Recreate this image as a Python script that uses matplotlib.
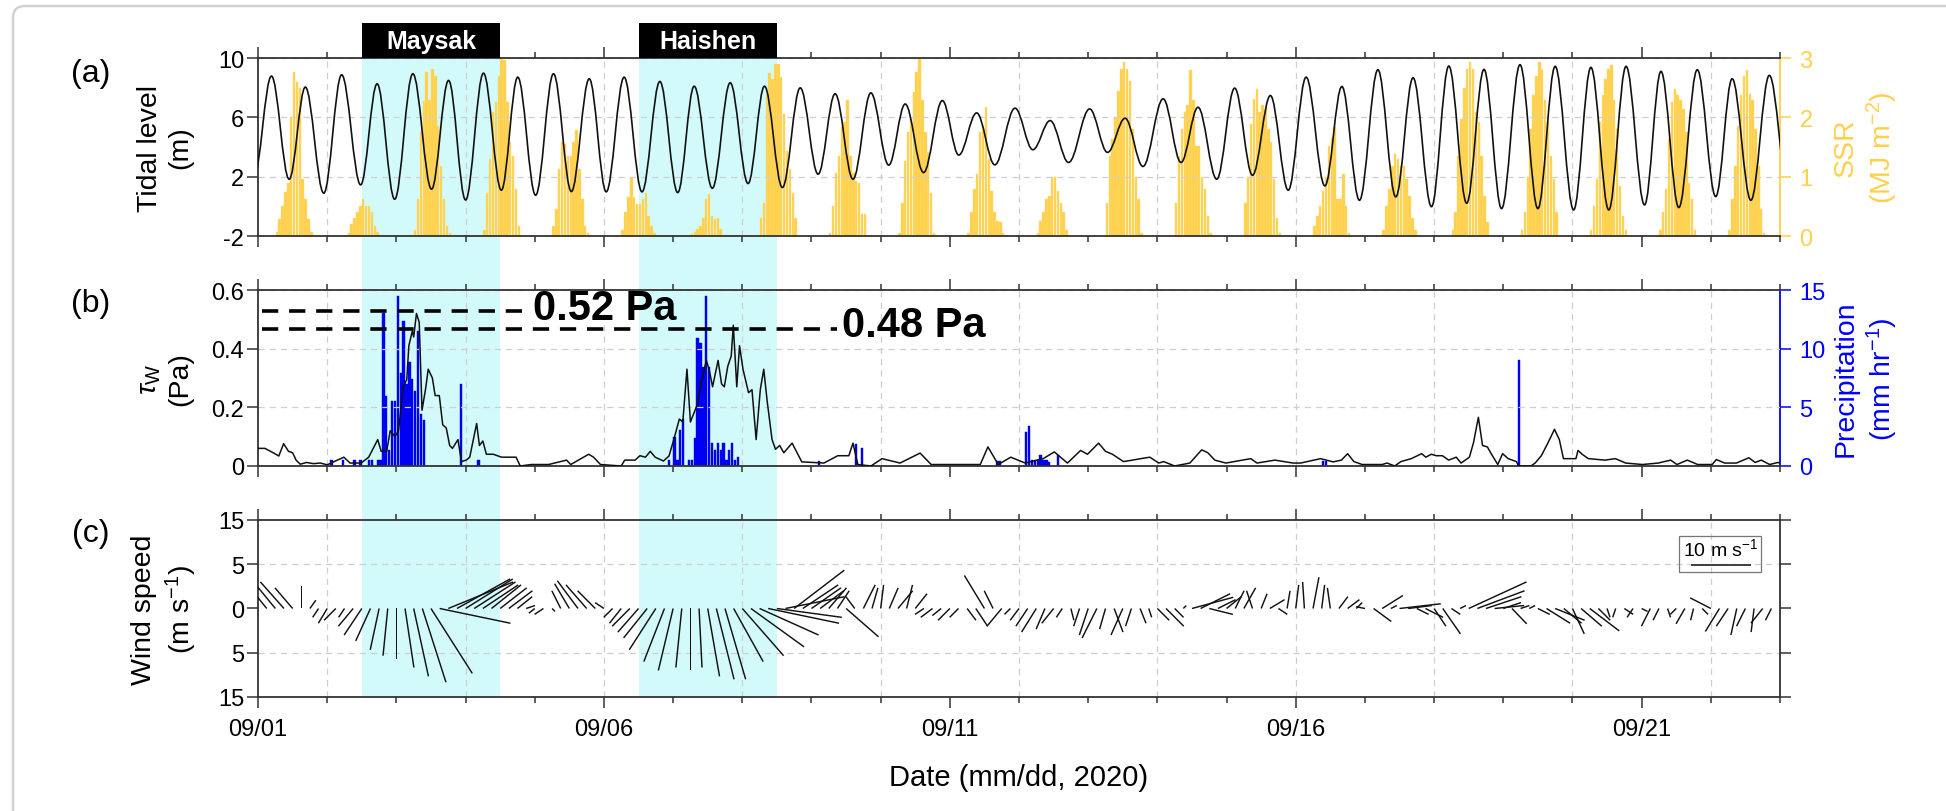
import numpy as np
import matplotlib
matplotlib.use('Agg')
import matplotlib.pyplot as plt
from matplotlib.path import Path
from matplotlib.patches import PathPatch, Rectangle, FancyBboxPatch
from matplotlib.transforms import blended_transform_factory, IdentityTransform

plt.rcParams['font.family'] = ['Liberation Sans', 'DejaVu Sans']
plt.rcParams['mathtext.fontset'] = 'custom'
plt.rcParams['mathtext.rm'] = 'Liberation Sans'
plt.rcParams['mathtext.it'] = 'Liberation Sans:italic'
plt.rcParams['mathtext.bf'] = 'Liberation Sans:bold'
plt.rcParams['axes.unicode_minus'] = False

# ---- data (time = hours / days since 09/01 00:00) ----
# tidal highs and lows: (hour, level m)
tide_extrema = [
    (-1.5, 1.9), (4.65, 8.78), (10.8, 1.83), (16.4, 8.04), (22.8, 0.89), (29.0, 8.87),
    (35.6, 1.45), (41.3, 8.26), (47.4, 0.48), (53.7, 8.94), (60.2, 1.16), (66.1, 8.49),
    (72.0, 0.43), (78.2, 8.98), (84.4, 1.09), (90.1, 8.71), (96.3, 0.75), (102.5, 8.94),
    (108.7, 1.0), (114.9, 8.6), (120.8, 0.98), (127.0, 8.71), (133.2, 0.98), (139.4, 8.42),
    (145.6, 0.93), (151.3, 8.1), (157.6, 1.22), (163.8, 8.33), (170.0, 1.54), (175.7, 8.1),
    (181.9, 1.27), (188.1, 7.99), (194.3, 2.17), (200.2, 7.59), (206.4, 1.83), (212.6, 7.65),
    (218.8, 2.78), (224.5, 6.9), (230.9, 2.28), (237.4, 7.13), (243.1, 3.46), (249.3, 6.3),
    (255.6, 2.8), (262.6, 6.62), (268.8, 3.82), (274.8, 5.78), (281.2, 2.96), (288.5, 6.57),
    (294.7, 3.64), (300.8, 5.94), (307.0, 2.69), (314.0, 7.25), (320.2, 2.96), (326.1, 6.68),
    (332.6, 1.83), (338.8, 7.97), (345.0, 2.1), (351.2, 7.47), (357.4, 1.09), (363.6, 8.71),
    (370.1, 1.38), (376.0, 8.08), (382.1, 0.41), (388.5, 9.21), (394.7, 0.64), (400.7, 8.67),
    (407.1, -0.02), (413.1, 9.46), (419.3, 0.21), (425.3, 9.23), (431.4, -0.15), (437.8, 9.55),
    (444.0, -0.15), (450.0, 9.44), (456.4, -0.24), (462.4, 9.37), (468.6, -0.24), (474.6, 9.44),
    (481.0, 0.1), (486.7, 9.1), (492.9, -0.08), (499.3, 9.21), (505.7, 0.66), (511.4, 8.6),
    (517.9, 0.41), (524.3, 8.83), (531.0, 1.0),
]

# hourly SSR (MJ m-2), each day from 06:00 to 18:00
ssr_first_hour = 6
ssr_daily = [
    [0.06, 0.28, 0.5, 0.75, 0.9, 2.0, 2.76, 2.6, 2.5, 0.96, 0.62, 0.28, 0.06],
    [0.0, 0.05, 0.2, 0.3, 0.4, 0.5, 0.62, 0.5, 0.5, 0.4, 0.17, 0.06, 0.0],
    [0.1, 0.62, 1.75, 2.28, 2.76, 2.3, 2.82, 2.7, 1.86, 1.18, 0.62, 0.17, 0.05],
    [0.1, 0.73, 1.3, 2.09, 2.26, 2.7, 2.98, 2.96, 2.26, 1.58, 1.35, 0.79, 0.17],
    [0.17, 0.45, 1.13, 1.58, 1.55, 1.35, 1.35, 1.58, 1.78, 1.13, 0.62, 0.17, 0.05],
    [0.1, 0.4, 0.65, 1.0, 0.65, 0.54, 0.54, 0.62, 0.73, 0.34, 0.17, 0.05, 0.0],
    [0.03, 0.06, 0.11, 0.17, 0.31, 0.62, 0.7, 0.34, 0.28, 0.31, 0.11, 0.0, 0.0],
    [0.3, 0.56, 2.4, 2.74, 2.65, 2.9, 2.9, 2.68, 2.06, 1.44, 1.13, 0.73, 0.3],
    [0.05, 0.5, 1.07, 1.35, 1.83, 1.92, 2.3, 1.35, 1.07, 0.93, 0.9, 0.37, 0.37],
    [0.05, 0.56, 1.27, 1.75, 1.97, 2.43, 2.76, 3.0, 2.3, 1.75, 1.41, 0.73, 0.05],
    [0.05, 0.4, 0.79, 1.04, 1.75, 1.86, 2.17, 1.3, 0.76, 0.4, 0.25, 0.23, 0.05],
    [0.05, 0.25, 0.4, 0.62, 0.68, 1.0, 1.0, 0.76, 0.56, 0.4, 0.1, 0.0, 0.0],
    [0.56, 1.35, 1.64, 2.0, 2.45, 2.82, 2.93, 2.82, 2.62, 1.8, 1.0, 0.62, 0.05],
    [0.56, 1.35, 1.8, 2.09, 2.2, 2.79, 2.3, 1.52, 1.52, 1.0, 0.79, 0.34, 0.05],
    [0.56, 1.0, 1.89, 2.31, 2.48, 2.09, 2.2, 2.14, 1.8, 1.58, 0.96, 0.31, 0.05],
    [0.17, 0.34, 0.5, 0.76, 1.0, 1.52, 1.66, 1.83, 0.62, 0.62, 1.04, 0.5, 0.05],
    [0.1, 0.5, 0.79, 1.18, 1.38, 1.3, 1.18, 1.18, 0.96, 0.68, 0.31, 0.1, 0.02],
    [0.1, 0.4, 1.35, 1.97, 2.5, 2.82, 2.93, 2.82, 2.09, 1.92, 1.35, 0.68, 0.23],
    [0.1, 0.4, 1.0, 1.8, 2.37, 2.7, 2.93, 2.82, 2.3, 1.92, 1.35, 0.96, 0.4],
    [0.1, 0.5, 0.96, 1.92, 2.37, 2.65, 2.82, 2.88, 2.3, 1.8, 0.85, 0.34, 0.1],
    [0.1, 0.4, 0.79, 1.64, 2.26, 2.48, 2.37, 2.3, 2.14, 1.75, 0.9, 0.62, 0.1],
    [0.1, 0.62, 1.18, 1.86, 2.37, 2.7, 2.79, 2.4, 2.3, 1.8, 1.18, 0.45, 0.05],
]

# bed shear stress tau_w: (day, Pa)
tau_points = [
    (0.00, 0.06), (0.10, 0.06), (0.22, 0.045), (0.30, 0.034), (0.37, 0.076), (0.44, 0.05),
    (0.50, 0.045), (0.55, 0.02), (0.61, 0.006), (0.70, 0.012), (0.80, 0.008), (0.90, 0.01),
    (1.00, 0.004), (1.10, 0.015), (1.24, 0.03), (1.33, 0.01), (1.49, 0.01), (1.60, 0.03),
    (1.73, 0.09), (1.78, 0.05), (1.86, 0.05), (1.91, 0.12), (1.98, 0.10), (2.03, 0.12),
    (2.10, 0.27), (2.15, 0.295), (2.18, 0.41), (2.23, 0.46), (2.25, 0.44), (2.29, 0.52),
    (2.33, 0.49), (2.37, 0.19), (2.42, 0.26), (2.46, 0.33), (2.52, 0.30), (2.56, 0.24),
    (2.62, 0.24), (2.67, 0.14), (2.72, 0.13), (2.77, 0.07), (2.81, 0.06), (2.89, 0.09),
    (2.94, 0.015), (3.01, 0.02), (3.06, 0.03), (3.16, 0.145), (3.20, 0.07), (3.25, 0.085),
    (3.30, 0.04), (3.40, 0.04), (3.52, 0.03), (3.73, 0.03), (3.79, 0.0), (3.95, 0.005),
    (4.20, 0.005), (4.46, 0.02), (4.52, 0.005), (4.78, 0.04), (4.85, 0.03), (4.95, 0.005),
    (5.25, 0.0), (5.30, 0.02), (5.45, 0.02), (5.52, 0.035), (5.60, 0.03), (5.67, 0.05),
    (5.74, 0.03), (5.86, 0.017), (5.94, 0.034), (6.01, 0.09), (6.09, 0.16), (6.14, 0.15),
    (6.20, 0.33), (6.25, 0.15), (6.30, 0.18), (6.35, 0.21), (6.43, 0.31), (6.48, 0.36),
    (6.52, 0.33), (6.57, 0.27), (6.65, 0.36), (6.70, 0.28), (6.74, 0.27), (6.79, 0.34),
    (6.84, 0.375), (6.87, 0.48), (6.92, 0.27), (6.96, 0.41), (7.01, 0.33), (7.09, 0.25),
    (7.14, 0.26), (7.20, 0.09), (7.26, 0.26), (7.31, 0.33), (7.36, 0.22), (7.43, 0.09),
    (7.48, 0.057), (7.54, 0.07), (7.60, 0.045), (7.72, 0.078), (7.86, 0.014), (8.18, 0.01),
    (8.38, 0.035), (8.54, 0.035), (8.60, 0.078), (8.67, 0.005), (8.86, 0.0), (9.02, 0.025),
    (9.28, 0.01), (9.57, 0.044), (9.73, 0.005), (10.18, 0.005), (10.44, 0.005), (10.55, 0.065),
    (10.70, 0.005), (10.88, 0.03), (11.09, 0.01), (11.35, 0.025), (11.51, 0.048), (11.70, 0.01),
    (11.89, 0.053), (11.99, 0.04), (12.15, 0.078), (12.25, 0.05), (12.35, 0.04), (12.51, 0.015),
    (12.64, 0.02), (12.76, 0.025), (12.89, 0.03), (13.02, 0.01), (13.09, 0.015), (13.25, 0.0),
    (13.47, 0.01), (13.64, 0.055), (13.73, 0.045), (13.83, 0.02), (13.99, 0.01), (14.35, 0.025),
    (14.44, 0.01), (14.70, 0.02), (14.96, 0.01), (15.07, 0.01), (15.36, 0.025), (15.54, 0.014),
    (15.66, 0.02), (15.75, 0.042), (15.84, 0.015), (15.96, 0.005), (16.25, 0.005), (16.32, 0.01),
    (16.43, 0.0), (16.52, 0.015), (16.67, 0.025), (16.76, 0.035), (16.82, 0.042), (16.88, 0.03),
    (16.96, 0.04), (17.03, 0.035), (17.12, 0.035), (17.21, 0.02), (17.32, 0.03), (17.39, 0.01),
    (17.51, 0.03), (17.57, 0.08), (17.64, 0.166), (17.70, 0.07), (17.77, 0.065), (17.83, 0.04),
    (17.92, 0.005), (17.99, 0.042), (18.07, 0.025), (18.19, 0.015), (18.22, 0.0), (18.40, 0.0),
    (18.46, 0.01), (18.55, 0.035), (18.64, 0.076), (18.74, 0.125), (18.81, 0.09), (18.87, 0.025),
    (19.05, 0.025), (19.08, 0.053), (19.14, 0.04), (19.23, 0.025), (19.47, 0.02), (19.62, 0.025),
    (19.77, 0.01), (20.01, 0.005), (20.24, 0.01), (20.42, 0.02), (20.51, 0.005), (20.66, 0.02),
    (20.81, 0.005), (21.02, 0.005), (21.08, 0.022), (21.20, 0.01), (21.37, 0.01), (21.55, 0.028),
    (21.64, 0.012), (21.73, 0.02), (21.85, 0.005), (21.97, 0.012), (22.0, 0.01),
]

# hourly precipitation: (hour, mm/hr), zero hours left out
rain_points = [
    (25, 0.5), (29, 0.5), (33, 0.5), (35, 0.5), (38, 0.5), (39, 0.5), (41, 0.5), (42, 0.5),
    (43, 13.0), (44, 6.0), (45, 1.4), (46, 5.5), (47, 5.5), (48, 14.5), (49, 7.9), (50, 12.4),
    (51, 7.0), (52, 8.9), (53, 7.4), (54, 6.4), (55, 11.5), (56, 4.4), (57, 3.9),
    (70, 7.0), (76, 0.5),
    (142, 0.5), (144, 2.5), (145, 0.5), (146, 3.1), (147, 4.0), (149, 0.5), (150, 0.5),
    (151, 2.4), (152, 10.9), (153, 10.5), (154, 8.4), (155, 14.5), (156, 8.4), (157, 2.0),
    (158, 1.4), (159, 2.0), (160, 1.4), (161, 2.0), (162, 0.5), (163, 1.4), (164, 2.0),
    (165, 0.5), (166, 0.8),
    (194, 0.4), (207, 1.9), (209, 1.5), (256, 0.4), (257, 0.4),
    (266, 2.9), (267, 3.4), (268, 0.5), (269, 0.5), (270, 0.5), (271, 0.9), (272, 0.5),
    (273, 0.5), (274, 0.3), (277, 0.9),
    (369, 0.4), (370, 0.4), (437, 9.0),
]

# wind vectors every 3 h (m/s), 8 per day
wind_step_h = 3
wind_u = [
    -3.5, -4, -4.5, -4, -3, 0, 1, -1,
    -1.5, -2, -1, -2.5, -3, -2.5, -1.5, -0.8,
    0, 1.5, 2.5, 4, 7, 12, 11, 9,
    8, 7, 6, 5, 4.5, 4, 2.5, 1.5,
    -1, -1.5, 0.5, -1.5, -2.5, -3.5, -3.5, -3,
    -1.5, -1.5, -2, -3, -3.5, -4, -4.5, -3.5,
    -2.5, -1, 0, 0.5, 2, 3, 3.5, 5,
    7, 9, 10, 12, 11, 10, 8.5, 6,
    5, 4, 3, 2, 5.5, -1.5, 2, 1,
    0.5, 1.5, 2.5, 1, 2, -1.5, -2, -1.5,
    -2, -1.5, 1.5, 2, -3.4, -1.5, -2.5, -1,
    -1.5, -2, -2.5, -1.5, -2, -1, 0.5, -1,
    -1.5, -2.5, -1, 1.5, -2, -1, 1, 0.5,
    2, 3, 1.5, 0.5, 7, 5, 4, 3,
    2.5, 1.5, 2, -1, 1, 2.5, 1.5, 0.5,
    0.5, -0.3, 1, 0.5, -0.5, 1.5, 2, 1,
    -1.5, 3, 3.5, 1, 7, 4, 2, 3,
    2, 3, 1.5, 1, 9.8, 8, 6, 5,
    3, 2.5, 1.5, 1, 2, 4, 5, 3,
    2, 3.5, 5, 2, 0.5, -0.5, 1.5, -1,
    1, -1.5, -1, 0.5, -1, -1.5, -0.5, 1,
    -3.5, -2.4, -2, -1, -1.5, -0.5, -2, -1,
]
wind_v = [
    4.5, 5, 5.5, 4.5, 3.5, 3.8, 1.4, -1.5,
    -2.5, -2, -1.5, -3, -4.5, -5.5, -7, -8,
    -8.6, -10, -11.5, -12.5, -11, -2.5, 4.5, 5,
    5, 4.5, 4, 4, 3.5, 3, 2, 0.5,
    -0.8, -1, -0.5, 3, 4.2, 4.7, 4, 3,
    1, -1.5, -2.5, -3, -4, -5, -7, -9,
    -10.5, -10, -10.5, -10, -11.5, -12, -12, -9,
    -8, -6.5, -4.5, -2.5, -1.5, 2, 6.5, 4,
    3.5, 3, 3.5, 3, -4.8, 2, 4, 3.5,
    4, 3.5, 3, 4, 2.5, -1, -1.5, -1.2,
    -2, -1.5, -2, -3, 5.6, 3, -3, -1,
    -2, -3, -4, -3.5, -2.5, -1.5, -2, -3,
    -4.5, -5, -3.5, -4, -4.5, -3, -2.5, -1.5,
    -2, -3, -1.5, 0.5, 1.9, 2.5, -1, 1.5,
    2, 3, 3.5, 3, 2.5, 1.5, -1, 3,
    4, 4.5, 5.3, 4, 3.5, 2, 1.5, 1,
    0.3, -2.2, 2.2, 0.5, 0.8, 0.5, -1, -1.5,
    -3, -4.3, -1, 0.5, 4.5, 3, 2, 0.5,
    1, -2.6, 0.5, 0.5, -1, -2.5, -2, -2.5,
    -4.3, -3, -3.8, -2, -1.5, -1.5, -1, -1.5,
    -0.5, -3, -2, -1.5, -1, -2.6, -2, -1,
    1.8, -3.9, -3, -4.5, -3, -4, -2.5, -2,
]

storm_names = ['Maysak', 'Haishen']
storm_start = [1.5, 5.5]
storm_end = [3.5, 7.5]

date_ticks = [0, 5, 10, 15, 20]
date_labels = ['09/01', '09/06', '09/11', '09/16', '09/21']

peak_levels = [0.527, 0.467]
peak_texts = ['0.52 Pa', '0.48 Pa']
peak_line_end = [3.91, 8.37]

GOLD = '#FFD04A'
BLUE = '#0000FF'
CYAN = '#D3FAFA'
GRID = '#CFCFCF'
SPINE = '#333333'
DASH = (0, (5, 4))

fig = plt.figure(figsize=(19.46, 8.12), dpi=100)
L, W = 0.1326, 0.7821
ax_a = fig.add_axes([L, 0.7081, W, 0.2192])
ax_b = fig.add_axes([L, 0.4249, W, 0.2167])
ax_c = fig.add_axes([L, 0.1404, W, 0.2180])


def style(ax, hgrid=True):
    ax.set_xlim(0, 22)
    ax.set_xticks(date_ticks)
    ax.set_xticks(range(0, 23), minor=True)
    ax.tick_params(axis='x', which='both', direction='out', top=True, bottom=True,
                   labelbottom=False, width=1.1, color=SPINE)
    ax.tick_params(axis='x', which='major', length=8)
    ax.tick_params(axis='x', which='minor', length=4.5)
    ax.tick_params(axis='y', which='major', direction='out', length=8, width=1.1,
                   labelsize=17, color=SPINE, pad=2)
    if hgrid:
        ax.yaxis.grid(True, color=GRID, ls=DASH, lw=0.9)
    for d in range(1, 22, 2):
        ax.axvline(d, color=GRID, ls=DASH, lw=0.9, zorder=0.6)
    for s in ax.spines.values():
        s.set_color(SPINE)
        s.set_linewidth(1.3)
    ax.patch.set_visible(False)
    ax.set_zorder(2)


def style_twin(tw, color):
    for s in ['left', 'top', 'bottom']:
        tw.spines[s].set_visible(False)
    tw.spines['right'].set_color(color)
    tw.spines['right'].set_linewidth(1.3)
    tw.tick_params(axis='y', direction='out', length=8, width=1.1, labelsize=17,
                   colors=color, pad=6)
    tw.set_zorder(1)


# ---- (a) tide + SSR ----
style(ax_a)
ax_a.set_ylim(-2, 10)
ax_a.set_yticks([-2, 2, 6, 10])
ax_a.spines['right'].set_visible(False)

tide_h = np.array([p[0] for p in tide_extrema]) / 24
tide_z = np.array([p[1] for p in tide_extrema])
k = 0.363  # bezier handles so each half cycle looks like a cosine
verts = [(tide_h[0], tide_z[0])]
codes = [Path.MOVETO]
for i in range(1, len(tide_h)):
    d = tide_h[i] - tide_h[i - 1]
    verts += [(tide_h[i - 1] + k * d, tide_z[i - 1]), (tide_h[i] - k * d, tide_z[i]),
              (tide_h[i], tide_z[i])]
    codes += [Path.CURVE4] * 3
ax_a.add_patch(PathPatch(Path(verts, codes), fill=False, edgecolor='#111111', lw=1.2, zorder=3))

ax_a2 = ax_a.twinx()
ssr_x, ssr_y = [], []
for day, vals in enumerate(ssr_daily):
    for j, v in enumerate(vals):
        ssr_x.append(day + (ssr_first_hour + j + 0.5) / 24)
        ssr_y.append(v)
ax_a2.bar(ssr_x, ssr_y, width=0.85 / 24, color=GOLD, edgecolor='#FFDD77', lw=0.3)
ax_a2.set_ylim(0, 3)
ax_a2.set_yticks([0, 1, 2, 3])
style_twin(ax_a2, GOLD)

# ---- (b) bed shear stress + precipitation ----
style(ax_b)
ax_b.set_ylim(0, 0.6)
ax_b.set_yticks([0, 0.2, 0.4, 0.6])
ax_b.set_yticklabels(['0', '0.2', '0.4', '0.6'])
ax_b.spines['right'].set_visible(False)
tau_d = [p[0] for p in tau_points]
tau_v = [p[1] for p in tau_points]
ax_b.plot(tau_d, tau_v, color='#111111', lw=1.1, zorder=3)

for lev, end, txt in zip(peak_levels, peak_line_end, peak_texts):
    ax_b.plot([0.055, end], [lev, lev], color='black', lw=2.6, ls=(0, (4.5, 3)), zorder=4)
    ax_b.text(end + 0.07, lev + 0.013, txt, fontsize=30, fontweight='bold',
              ha='left', va='center', zorder=5)

ax_b2 = ax_b.twinx()
rain_x = [(p[0] + 0.5) / 24 for p in rain_points]
rain_y = [p[1] for p in rain_points]
ax_b2.bar(rain_x, rain_y, width=0.8 / 24, color=BLUE, edgecolor='#0000CC', lw=0.3)
ax_b2.set_ylim(0, 15)
ax_b2.set_yticks([0, 5, 10, 15])
style_twin(ax_b2, BLUE)

# ---- (c) wind sticks ----
style(ax_c, hgrid=False)
ax_c.set_ylim(-15, 15)
ax_c.set_yticks([-15, -7.5, 0, 7.5, 15])
ax_c.set_yticklabels(['15', '5', '0', '5', '15'])
ax_c.tick_params(axis='y', right=True, labelright=False)
ax_c.axhline(7.5, color=GRID, ls=DASH, lw=0.9, zorder=0.6)
ax_c.axhline(-7.5, color=GRID, ls=DASH, lw=0.9, zorder=0.6)
ax_c.set_xticklabels(date_labels)
ax_c.tick_params(axis='x', which='major', labelbottom=True, labelsize=17, pad=7)
ax_c.tick_params(axis='x', which='major', length=8)

wt = np.arange(len(wind_u)) * wind_step_h / 24
q = ax_c.quiver(wt, np.zeros_like(wt), wind_u, wind_v, angles='uv', scale_units='y', scale=1,
                pivot='tail', headwidth=0, headlength=0, headaxislength=0, minlength=0,
                width=0.00095, color='#111111', zorder=3)
ax_c.quiverkey(q, 0.961, 0.747, 10, r'10 m s$^{-1}$', labelpos='N', coordinates='axes',
               labelsep=0.06, fontproperties={'size': 14}, color='#444444')
ax_c.add_patch(Rectangle((0.9336, 0.706), 0.0539, 0.2036, transform=ax_c.transAxes,
                         fill=False, edgecolor='#777777', lw=0.9, zorder=4))

# ---- storm shading and labels across all panels ----
tr = blended_transform_factory(ax_c.transData, fig.transFigure)
y_bot = ax_c.get_position().y0
y_top = ax_a.get_position().y1
for name, s, e in zip(storm_names, storm_start, storm_end):
    fig.add_artist(Rectangle((s, y_bot), e - s, y_top - y_bot, transform=tr,
                             facecolor=CYAN, edgecolor='none', zorder=-1))
    fig.add_artist(Rectangle((s, y_top), e - s, 0.0431, transform=tr,
                             facecolor='black', edgecolor='none', zorder=3))
    fig.text((s + e) / 2, y_top + 0.021, name, transform=tr, ha='center', va='center',
             color='white', fontsize=18, fontweight='bold', zorder=4)

# ---- labels ----
for lab, y in zip(['(a)', '(b)', '(c)'], [0.9089, 0.6256, 0.3424]):
    fig.text(0.0468, y, lab, fontsize=23, ha='center', va='center')

ylab_kw = dict(rotation=90, ha='center', va='center', fontsize=20.5,
               multialignment='center', linespacing=1.25)
fig.text(0.0848, 0.8177, 'Tidal level\n(m)', **ylab_kw)
fig.text(0.0848, 0.5333, '$\\tau_\\mathrm{W}$\n(Pa)', **ylab_kw)
fig.text(0.0848, 0.2494, 'Wind speed\n(m s$^{-1}$)', **ylab_kw)
fig.text(0.959, 0.8177, 'SSR\n(MJ m$^{-2}$)', color=GOLD, **ylab_kw)
fig.text(0.959, 0.5333, 'Precipitation\n(mm hr$^{-1}$)', color=BLUE, **ylab_kw)
fig.text(0.5236, 0.0419, 'Date (mm/dd, 2020)', fontsize=21, ha='center', va='center')

# light card border like the source image
fig.add_artist(FancyBboxPatch((13, -60), 2100, 812 - 7 + 60,
                              boxstyle='round,pad=0,rounding_size=12',
                              transform=IdentityTransform(), facecolor='none',
                              edgecolor='#D2D2D2', lw=1.8, zorder=10))

fig.savefig('out.png', dpi=100)
